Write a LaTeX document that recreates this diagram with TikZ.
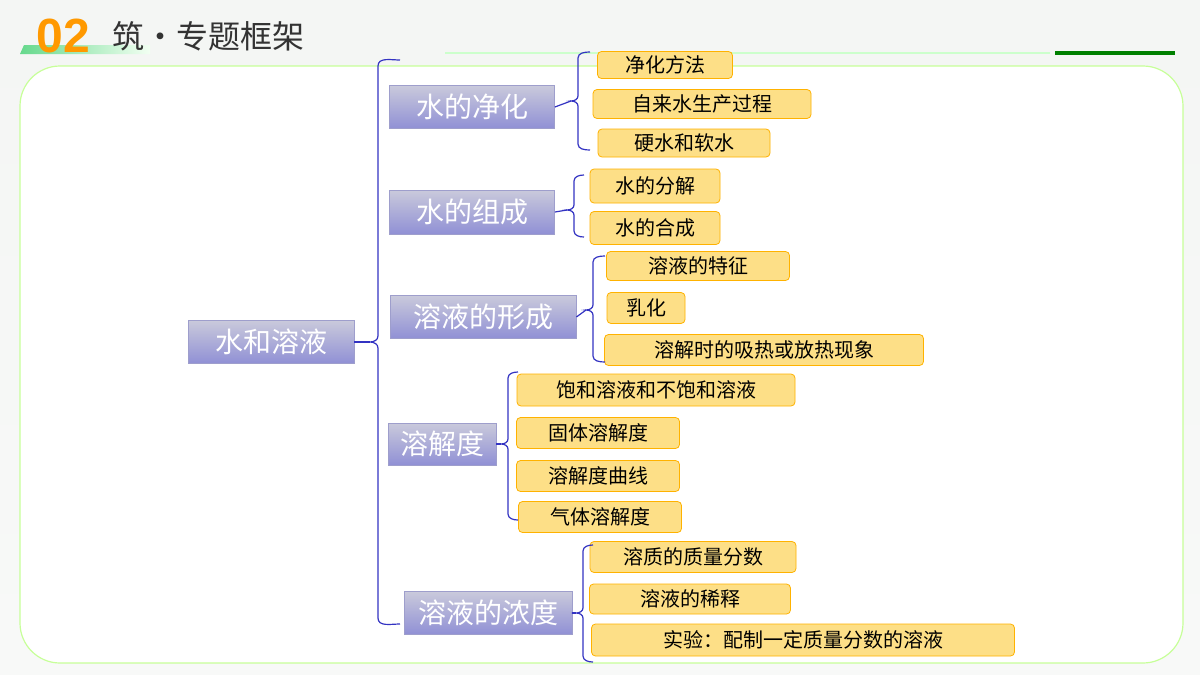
\documentclass[tikz,border=0pt]{standalone}
\usepackage{fontspec}
\setmainfont{Noto Sans CJK SC}
\newfontfamily\numfont{Liberation Sans}
\begin{document}
\begin{tikzpicture}[x=0.5pt,y=-0.5pt,
  blue/.style={draw=white!70!blue!60!gray,top color=blue!20!gray!35!white,bottom color=blue!45!gray!60!white,text=white,font=\fontsize{14}{16}\selectfont,inner sep=0pt},
  yel/.style={draw=orange!60!yellow,fill=yellow!50!orange!45!white,rounded corners=2pt,font=\fontsize{10}{12}\selectfont,inner sep=0pt},
  br/.style={draw=blue!70!black!80!white,line width=0.6pt}]
\useasboundingbox (0,0) rectangle (1200,675);
\shade[top color=green!8!gray!8!white,bottom color=green!10!gray!5!white] (0,0) rectangle (1200,675);
\fill[rounded corners=20pt,white,draw=green!40!lime!40!white,line width=0.6pt] (20,66) rectangle (1183,663);
% header
\shade[left color=green!50!teal!60!white,right color=green!5!white] (24,45) -- (150,45) -- (150,54) -- (20,54) -- cycle;
\node[font=\numfont\bfseries\fontsize{24}{26}\selectfont,text=orange!80!yellow,anchor=west,inner sep=0] (num) at (36,36) {02};
\node[font=\fontsize{16}{18}\selectfont,text=black!80,anchor=west,inner sep=0] (title) at (112,36) {筑·专题框架};
\draw[green!20!white,line width=1pt] (445,53) -- (1050,53);
\fill[green!50!black] (1055,51) rectangle (1175,55);
% nodes
\node[blue,minimum width=83pt,minimum height=21.5pt] (root) at (271,342) {水和溶液};
\node[blue,minimum width=82.5pt,minimum height=21.5pt] (a) at (472,107) {水的净化};
\node[blue,minimum width=82.5pt,minimum height=22pt] (b) at (472,212) {水的组成};
\node[blue,minimum width=93pt,minimum height=21.5pt] (c) at (483,317) {溶液的形成};
\node[blue,minimum width=54pt,minimum height=21pt] (d) at (442,444) {溶解度};
\node[blue,minimum width=84pt,minimum height=21.5pt] (e) at (488,613) {溶液的浓度};
\node[yel,minimum width=67.5pt,minimum height=13.5pt] (a1) at (665,65) {净化方法};
\node[yel,minimum width=109pt,minimum height=14.5pt] (a2) at (702,104) {自来水生产过程};
\node[yel,minimum width=86pt,minimum height=14pt] (a3) at (684,143) {硬水和软水};
\node[yel,minimum width=65pt,minimum height=17pt] (b1) at (655,186) {水的分解};
\node[yel,minimum width=65pt,minimum height=16.5pt] (b2) at (655,228) {水的合成};
\node[yel,minimum width=91.5pt,minimum height=14.5pt] (c1) at (698,266) {溶液的特征};
\node[yel,minimum width=39pt,minimum height=15.5pt] (c2) at (646,308) {乳化};
\node[yel,minimum width=159.5pt,minimum height=15.5pt] (c3) at (764,350) {溶解时的吸热或放热现象};
\node[yel,minimum width=139pt,minimum height=16pt] (d1) at (656,390) {饱和溶液和不饱和溶液};
\node[yel,minimum width=81.5pt,minimum height=15.5pt] (d2) at (598,433) {固体溶解度};
\node[yel,minimum width=81.5pt,minimum height=15.5pt] (d3) at (598,476) {溶解度曲线};
\node[yel,minimum width=81.5pt,minimum height=15.5pt] (d4) at (600,517) {气体溶解度};
\node[yel,minimum width=103pt,minimum height=15.5pt] (e1) at (693,557) {溶质的质量分数};
\node[yel,minimum width=100.5pt,minimum height=15pt] (e2) at (690,599) {溶液的稀释};
\node[yel,minimum width=211.5pt,minimum height=16pt] (e3) at (803,640) {实验：配制一定质量分数的溶液};
% braces
\coordinate (t0) at (370,342);
\draw[br] (root.east) -- (t0);
\draw[br] (400,60) to[out=180,in=90] (378,66) -- (378,336) to[out=-90,in=0] (t0) to[out=0,in=90] (378,348) -- (378,618) to[out=-90,in=180] (400,624);
\coordinate (t1) at (571,101);
\draw[br] (a.east) -- (t1);
\draw[br] (590,52) to[out=180,in=90] (578,58) -- (578,96) to[out=-90,in=0] (t1) to[out=0,in=90] (578,106) -- (578,144) to[out=-90,in=180] (590,150);
\coordinate (t2) at (567,210);
\draw[br] (b.east) -- (t2);
\draw[br] (584,175) to[out=180,in=90] (574,181) -- (574,205) to[out=-90,in=0] (t2) to[out=0,in=90] (574,215) -- (574,231) to[out=-90,in=180] (584,237);
\coordinate (t3) at (586,310);
\draw[br] (c.east) -- (t3);
\draw[br] (605,256) to[out=180,in=90] (593,262) -- (593,305) to[out=-90,in=0] (t3) to[out=0,in=90] (593,315) -- (593,356) to[out=-90,in=180] (605,362);
\coordinate (t4) at (501,444);
\draw[br] (d.east) -- (t4);
\draw[br] (518,372) to[out=180,in=90] (508,378) -- (508,439) to[out=-90,in=0] (t4) to[out=0,in=90] (508,449) -- (508,514) to[out=-90,in=180] (518,520);
\coordinate (t5) at (576,613);
\draw[br] (e.east) -- (t5);
\draw[br] (593,545) to[out=180,in=90] (583,551) -- (583,608) to[out=-90,in=0] (t5) to[out=0,in=90] (583,618) -- (583,656) to[out=-90,in=180] (593,662);
\end{tikzpicture}
\end{document}
